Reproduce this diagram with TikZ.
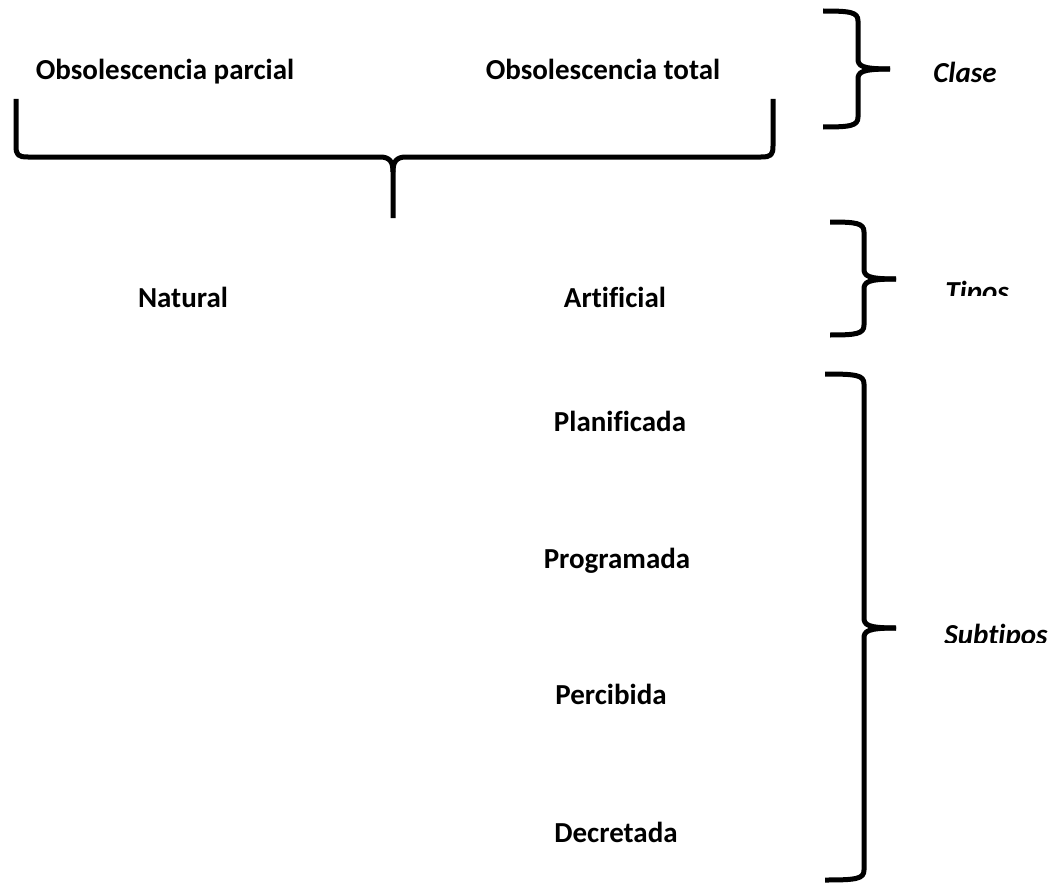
\documentclass[tikz,border=0pt]{standalone}
\usepackage{fontspec}
\setmainfont{Carlito}[Ligatures=NoCommon]
\begin{document}
\begin{tikzpicture}[x=1pt,y=-1pt,
  brace/.style={line width=5pt,line cap=butt,line join=round},
  lbl/.style={font=\fontsize{29}{34}\selectfont\bfseries,anchor=base,inner sep=0pt},
  side/.style={font=\fontsize{29}{34}\selectfont\bfseries\itshape,anchor=base,inner sep=0pt}]
\useasboundingbox (0,0) rectangle (1053,883);
% vertical braces: xleft, xvert, xtip, ytop, ytip, ybot
\newcommand\vbrace[6]{%
  \draw[brace] (#1,#4) .. controls (#2-8,#4) and (#2,#4+1) .. (#2,#4+10) -- (#2,#5-10)
     .. controls (#2,#5-3) and (#2+4,#5) .. (#3,#5);
  \draw[brace] (#3,#5) .. controls (#2+4,#5) and (#2,#5+3) .. (#2,#5+10) -- (#2,#6-10)
     .. controls (#2,#6-1) and (#2-8,#6) .. (#1,#6);}
\vbrace{823}{858}{890}{11}{69}{127}
\vbrace{830}{864}{896}{222}{279}{335}
\vbrace{825}{864}{896}{374}{628}{880}
% horizontal brace under class
\draw[brace] (16,99) -- (16,146) .. controls (16,155) and (18,157) .. (28,157) -- (380,157)
  .. controls (390,157) and (393,162) .. (393,172) -- (393,218);
\draw[brace] (393,172) .. controls (393,162) and (396,157) .. (406,157) -- (761,157)
  .. controls (771,157) and (773,155) .. (773,146) -- (773,99);
% labels
\node[lbl] (parcial) at (165,80) {Obsolescencia parcial};
\node[lbl] (total) at (603,80) {Obsolescencia total};
\node[side] (clase) at (965,83) {Clase};
\node[lbl] (natural) at (183,307) {Natural};
\node[lbl] (artificial) at (615,307) {Artificial};
\begin{scope}
  \clip (900,250) rectangle (1053,295);
  \node[side] (tipos) at (977,301) {Tipos};
\end{scope}
\node[lbl] (planificada) at (620,431) {Planificada};
\node[lbl] (programada) at (617,568) {Programada};
\node[lbl] (percibida) at (611,704) {Percibida};
\node[lbl] (decretada) at (616,842) {Decretada};
\begin{scope}
  \clip (900,600) rectangle (1053,642);
  \node[side] (subtipos) at (996,644) {Subtipos};
\end{scope}
\end{tikzpicture}
\end{document}
